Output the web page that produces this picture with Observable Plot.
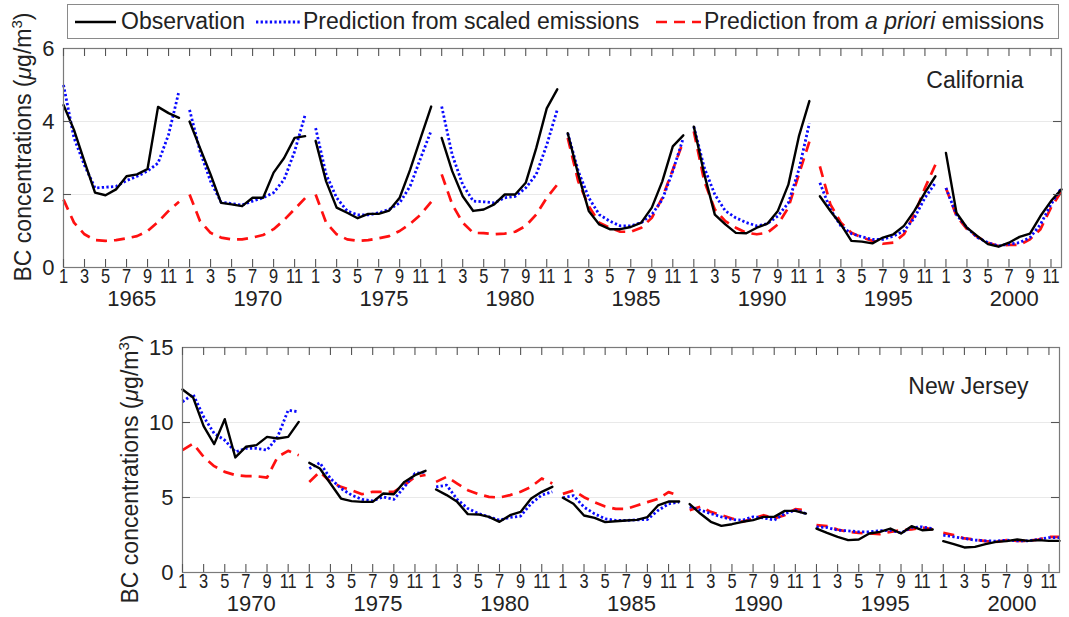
<!DOCTYPE html>
<html>
<head>
<meta charset="utf-8">
<script src="https://cdn.jsdelivr.net/npm/d3@7"></script>
<script src="https://cdn.jsdelivr.net/npm/@observablehq/plot@0.6"></script>
<style>
  html, body { margin: 0; padding: 0; background: #fff; }
  #wrap { position: relative; width: 1069px; height: 617px; overflow: hidden; font-family: "Liberation Sans", Arial, Helvetica, sans-serif; color: #222; }
  #wrap > svg { position: absolute; left: 0; }
  .ytitle { position: absolute; transform: translate(-50%, -50%) rotate(-90deg); white-space: nowrap; font-size: 23px; }
  #legend { position: absolute; left: 67px; top: 4px; width: 992px; height: 35px; border: 1px solid #8a8a8a; box-sizing: border-box; background: #fff; font-size: 23px; }
  #legend .lab { position: absolute; top: 50%; transform: translateY(-52%); white-space: nowrap; }
  #legend svg { position: absolute; top: 50%; transform: translateY(-50%); }
</style>
</head>
<body>
<div id="wrap"></div>
<script>
// ---------- data ----------
const caYears = [1965, 1970, 1975, 1980, 1985, 1990, 1995, 2000];
const njYears = [1970, 1975, 1980, 1985, 1990, 1995, 2000];
const monthTicks = [1, 3, 5, 7, 9, 11];

// California (12 monthly values per 5-year block)
const caObs = [
  4.45,3.77,2.9,2.05,1.98,2.14,2.5,2.55,2.7,4.4,4.23,4.1,
  4.0,3.27,2.55,1.77,1.73,1.68,1.91,1.91,2.6,3.0,3.55,3.6,
  3.47,2.36,1.64,1.5,1.35,1.47,1.47,1.56,1.91,2.68,3.55,4.41,
  3.55,2.64,1.95,1.55,1.59,1.73,2.0,2.0,2.32,3.27,4.36,4.88,
  3.68,2.55,1.55,1.18,1.05,1.05,1.11,1.23,1.64,2.36,3.32,3.62,
  3.86,2.55,1.45,1.18,0.95,0.94,1.09,1.2,1.55,2.27,3.59,4.56,
  1.95,1.55,1.18,0.73,0.71,0.66,0.82,0.91,1.14,1.55,2.05,2.5,
  3.14,1.5,1.09,0.86,0.64,0.57,0.68,0.84,0.93,1.41,1.82,2.14
];
const caScaled = [
  5.0,3.55,2.8,2.18,2.2,2.22,2.38,2.5,2.64,2.86,3.64,4.84,
  4.32,3.18,2.36,1.79,1.75,1.71,1.82,1.91,2.05,2.41,3.18,4.18,
  3.82,2.55,1.91,1.55,1.44,1.44,1.5,1.59,1.77,2.23,3.0,3.75,
  4.41,3.09,2.27,1.82,1.8,1.77,1.91,1.95,2.18,2.55,3.36,4.32,
  3.68,2.64,1.91,1.45,1.27,1.14,1.14,1.23,1.45,1.86,2.64,3.55,
  3.86,2.73,2.0,1.55,1.36,1.23,1.14,1.2,1.41,1.77,2.68,3.95,
  2.32,1.59,1.14,0.93,0.84,0.77,0.77,0.86,1.0,1.36,1.91,2.32,
  2.18,1.45,1.09,0.82,0.68,0.59,0.64,0.68,0.82,1.18,1.73,2.18
];
const caPrior = [
  1.86,1.23,0.91,0.75,0.73,0.75,0.8,0.86,1.0,1.25,1.55,1.8,
  2.0,1.27,0.95,0.82,0.77,0.77,0.82,0.89,1.05,1.3,1.6,1.9,
  2.0,1.23,0.91,0.77,0.73,0.75,0.8,0.86,1.0,1.2,1.45,1.8,
  2.55,1.73,1.23,0.95,0.94,0.91,0.93,0.98,1.14,1.45,1.91,2.27,
  3.55,2.36,1.68,1.23,1.09,0.98,0.98,1.09,1.36,1.91,2.68,3.45,
  3.73,2.36,1.59,1.27,1.09,0.95,0.91,0.95,1.18,1.64,2.55,3.45,
  2.77,1.73,1.23,0.95,0.82,0.73,0.65,0.68,0.91,1.45,2.18,2.82,
  2.18,1.41,1.05,0.84,0.68,0.59,0.62,0.62,0.77,1.05,1.64,2.09
];

// New Jersey
const njObs = [
  12.2,11.67,9.76,8.56,10.22,7.67,8.38,8.49,9.04,8.93,9.04,10.04,
  7.31,6.93,5.93,4.93,4.76,4.71,4.71,5.27,5.22,6.04,6.49,6.78,
  5.53,5.16,4.71,3.89,3.87,3.71,3.38,3.82,4.04,4.93,5.38,5.71,
  4.98,4.58,3.8,3.64,3.36,3.42,3.47,3.51,3.69,4.47,4.73,4.73,
  4.56,3.93,3.38,3.11,3.22,3.38,3.49,3.71,3.71,4.11,4.11,3.93,
  2.93,2.64,2.38,2.16,2.2,2.6,2.71,2.93,2.6,3.09,2.82,2.87,
  2.09,1.89,1.67,1.71,1.89,2.04,2.09,2.2,2.11,2.16,2.11,2.11
];
const njScaled = [
  11.38,11.89,10.38,9.27,8.82,8.04,8.27,8.27,8.16,9.04,10.82,10.71,
  6.93,7.31,6.27,5.6,5.16,4.87,4.78,5.04,4.87,5.71,6.6,6.71,
  5.71,5.82,4.87,4.27,3.93,3.71,3.49,3.67,3.76,4.6,5.16,5.38,
  4.98,5.13,4.36,3.91,3.58,3.47,3.47,3.51,3.53,4.13,4.58,4.69,
  4.38,4.16,3.93,3.71,3.53,3.49,3.71,3.64,3.49,3.93,4.16,3.93,
  3.04,3.0,2.82,2.78,2.71,2.71,2.78,2.82,2.64,3.0,3.04,2.93,
  2.49,2.38,2.27,2.16,2.11,2.09,2.16,2.11,2.11,2.2,2.33,2.33
];
const njPrior = [
  8.16,8.6,7.71,7.09,6.71,6.49,6.42,6.42,6.33,7.71,8.11,7.82,
  6.04,6.71,6.04,5.71,5.49,5.22,5.38,5.38,5.38,5.82,6.38,6.5,
  6.04,6.38,5.93,5.49,5.22,5.04,5.0,5.16,5.38,5.71,6.27,5.93,
  5.24,5.47,5.02,4.69,4.4,4.24,4.24,4.47,4.69,4.91,5.36,5.13,
  4.16,4.38,4.04,3.82,3.6,3.38,3.6,3.82,3.6,3.82,4.22,4.16,
  3.16,3.09,2.87,2.71,2.64,2.6,2.56,2.71,2.82,2.87,3.0,2.87,
  2.64,2.49,2.27,2.2,2.09,2.04,2.16,2.11,2.11,2.2,2.38,2.38
];

const caYTicks = [0, 2, 4, 6];
const njYTicks = [0, 5, 10, 15];
const caGrid = [2, 4];
const njGrid = [5, 10];

// ---------- helpers ----------
const FONT = '"Liberation Sans", Arial, Helvetica, sans-serif';
const COL = { obs: "#000000", scaled: "#0a0aff", prior: "#ff1010" };
const FRAME = "#7a7a7a";

function toRows(vals) {
  return vals.map((v, k) => ({ i: k + 1, block: Math.floor(k / 12), v }));
}

function panel({ years, obs, scaled, prior, yTicks, grid, yMax, width, height, mt, mb, ml, mr, label, labelDx, labelDy }) {
  const n = years.length * 12;
  const tickIdx = [];
  years.forEach((_, b) => monthTicks.forEach(m => tickIdx.push(b * 12 + m)));
  const plotH = height - mt - mb;
  const plotW = width - ml - mr;
  const inner = 8;
  const svg = Plot.plot({
    width, height,
    marginTop: mt, marginBottom: mb, marginLeft: ml, marginRight: mr,
    x: { domain: [1, n] },
    y: { domain: [0, yMax] },
    style: { fontFamily: FONT, color: "#222", background: "transparent", overflow: "visible" },
    marks: [
      Plot.ruleY(grid, { y: d => d, stroke: "#e9e9e9", strokeWidth: 1.2 }),
      Plot.line(toRows(prior), { x: "i", y: "v", z: "block", stroke: COL.prior, strokeWidth: 2.7, strokeDasharray: "11,7", strokeLinecap: "butt" }),
      Plot.line(toRows(scaled), { x: "i", y: "v", z: "block", stroke: COL.scaled, strokeWidth: 2.8, strokeDasharray: "2.3,2.3", strokeLinecap: "butt" }),
      Plot.line(toRows(obs), { x: "i", y: "v", z: "block", stroke: COL.obs, strokeWidth: 2.4 }),
      Plot.frame({ stroke: FRAME, strokeWidth: 1.2 }),
      Plot.tickX(tickIdx, { x: d => d, stroke: "#555", strokeWidth: 1.1, insetBottom: plotH - inner }),
      Plot.tickX(tickIdx, { x: d => d, stroke: "#555", strokeWidth: 1.1, insetTop: plotH - inner }),
      Plot.tickY(grid, { y: d => d, stroke: "#555", strokeWidth: 1.1, insetRight: plotW - inner }),
      Plot.tickY(grid, { y: d => d, stroke: "#555", strokeWidth: 1.1, insetLeft: plotW - inner }),
      Plot.axisX(tickIdx, { tickSize: 0, tickPadding: 1, tickFormat: d => ((d - 1) % 12) + 1, fontSize: 20, label: null }),
      Plot.axisY(yTicks, { tickSize: 0, tickPadding: 9, fontSize: 22, label: null }),
      Plot.text(years, { x: (d, i) => i * 12 + 7.5, text: d => String(d), frameAnchor: "bottom", lineAnchor: "middle", dy: 31, fontSize: 22, fill: "#222" }),
      Plot.text([label], { frameAnchor: "top-right", textAnchor: "end", lineAnchor: "middle", dx: labelDx, dy: labelDy, fontSize: 23, fill: "#222" })
    ]
  });
  // month tick labels are horizontally condensed in the original figure
  d3.select(svg).selectAll('g[aria-label="x-axis tick label"] text').each(function () {
    const t = this.getAttribute("transform") || "";
    this.setAttribute("transform", t + " scale(0.82,1)");
  });
  return svg;
}

const wrap = document.getElementById("wrap");

const topPanel = panel({
  years: caYears, obs: caObs, scaled: caScaled, prior: caPrior,
  yTicks: caYTicks, grid: caGrid, yMax: 6,
  width: 1069, height: 310, mt: 48, mb: 43, ml: 63, mr: 8,
  label: "California", labelDx: -38, labelDy: 32
});
topPanel.style.top = "0px";
wrap.appendChild(topPanel);

const bottomPanel = panel({
  years: njYears, obs: njObs, scaled: njScaled, prior: njPrior,
  yTicks: njYTicks, grid: njGrid, yMax: 15,
  width: 1069, height: 307, mt: 37, mb: 45, ml: 182, mr: 10,
  label: "New Jersey", labelDx: -31, labelDy: 39
});
bottomPanel.style.top = "310px";
wrap.appendChild(bottomPanel);

// y-axis titles
const yTitle = 'BC concentrations (<i>\u03bc</i>g/m<sup style="font-size:15px;vertical-align:9px;line-height:0">3</sup>)';
[[23, 147], [130, 469]].forEach(([x, y]) => {
  const d = document.createElement("div");
  d.className = "ytitle";
  d.style.left = x + "px";
  d.style.top = y + "px";
  d.innerHTML = yTitle;
  wrap.appendChild(d);
});

// legend
const legend = document.createElement("div");
legend.id = "legend";
const items = [
  { left: 7, w: 41, color: COL.obs, dash: null, width: 2.6, textLeft: 53, html: "Observation" },
  { left: 188, w: 45, color: COL.scaled, dash: "2.3,2.3", width: 2.8, textLeft: 235, html: "Prediction from scaled emissions" },
  { left: 588, w: 45, color: COL.prior, dash: "11,7", width: 2.7, textLeft: 636, html: "Prediction from <i>a priori</i> emissions" }
];
items.forEach(it => {
  const s = d3.create("svg").attr("width", it.w).attr("height", 10).style("left", it.left + "px");
  s.append("line").attr("x1", 0).attr("x2", it.w).attr("y1", 5).attr("y2", 5)
    .attr("stroke", it.color).attr("stroke-width", it.width)
    .attr("stroke-dasharray", it.dash).attr("stroke-linecap", "butt");
  legend.appendChild(s.node());
  const t = document.createElement("div");
  t.className = "lab";
  t.style.left = it.textLeft + "px";
  t.innerHTML = it.html;
  legend.appendChild(t);
});
wrap.appendChild(legend);
</script>
</body>
</html>
